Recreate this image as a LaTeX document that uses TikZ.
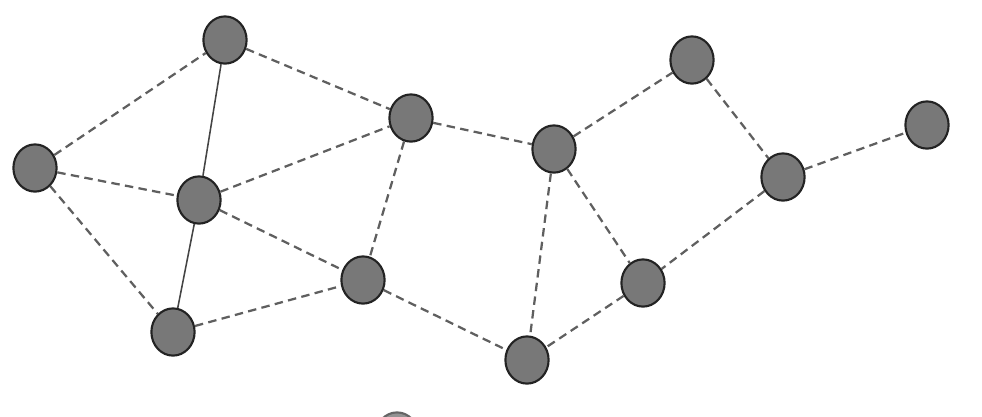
\documentclass[tikz,border=0pt]{standalone}
\usetikzlibrary{shapes.geometric}
\definecolor{ballgray}{RGB}{120,120,120}
\definecolor{rimgray}{RGB}{35,35,35}
\definecolor{linkgray}{RGB}{95,95,95}
\begin{document}
\begin{tikzpicture}[x=0.025cm,y=-0.025cm,
    site/.style={ellipse,draw=rimgray,fill=ballgray,line width=1.5pt,
      minimum width=1.08cm,minimum height=1.18cm,inner sep=0pt},
    link/.style={draw=linkgray,line width=1.6pt,dash pattern=on 6pt off 3.8pt},
    bond/.style={draw=rimgray!85,line width=1.1pt}]
  \useasboundingbox (0,0) rectangle (982,416);
  % the sites, in pixel coordinates of the sheet
  \foreach \name/\x/\y in {a/35/168, b/225/40, c/199/200, d/173/332,
                           e/411/118, f/363/280, g/554/149, h/692/60,
                           i/927/125, j/783/177, k/643/283, l/527/360}{%
    \node[site] (\name) at (\x,\y) {};
  }
  % the one that falls off the bottom edge
  \begin{scope}
    \clip (0,0) rectangle (982,416);
    \node[site,draw=rimgray!70,fill=ballgray!80] (stub) at (397,436) {};
  \end{scope}
  % solid bonds
  \draw[bond] (b) -- (c) -- (d);
  % dashed links
  \foreach \u/\v in {a/b, a/c, a/d, b/e, c/e, c/f, d/f, e/f, e/g,
                     f/l, g/l, g/h, g/k, h/j, j/i, j/k, k/l}{%
    \draw[link] (\u) -- (\v);
  }
\end{tikzpicture}
\end{document}
